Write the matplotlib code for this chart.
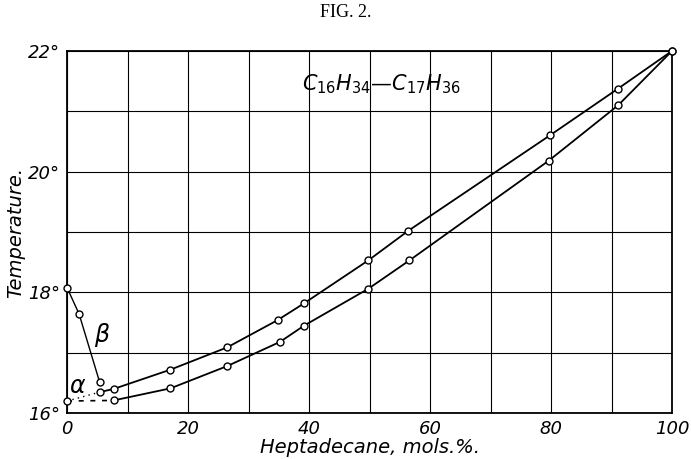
import matplotlib.pyplot as plt
import numpy as np

# heptadecane (mol %) vs temperature (deg C)
x_upper = [5.5, 7.7, 17.1, 26.5, 34.8, 39.2, 49.8, 56.4, 79.8, 91.0, 100]
t_upper = [16.35, 16.40, 16.72, 17.09, 17.54, 17.82, 18.53, 19.02, 20.60, 21.37, 22.0]

x_lower = [7.7, 17.1, 26.5, 35.2, 39.2, 49.8, 56.6, 79.6, 91.1, 100]
t_lower = [16.21, 16.41, 16.78, 17.18, 17.45, 18.06, 18.53, 20.18, 21.10, 22.0]

x_beta = [0, 2.0, 5.4]
t_beta = [18.08, 17.64, 16.51]

x_alpha = [0]
t_alpha = [16.2]

xticks = [0, 20, 40, 60, 80, 100]
yticks = [16, 18, 20, 22]

fig = plt.figure(figsize=(6.91, 4.59), dpi=100)
ax = fig.add_axes([0.097, 0.100, 0.8755, 0.789])

mk = dict(marker='o', ms=5, mfc='white', mec='black', mew=1.0, color='black', lw=1.3, clip_on=False, zorder=3)
ax.plot(x_upper, t_upper, **mk)
ax.plot(x_lower, t_lower, **mk)
ax.plot(x_beta, t_beta, **dict(mk, lw=1.0))
ax.plot(x_alpha, t_alpha, **mk)

# dotted continuations to the alpha point
ax.plot([x_alpha[0], x_upper[0]], [t_alpha[0], t_upper[0]], color='black', lw=1.0, ls=(0, (1, 3)))
ax.plot([x_alpha[0], x_lower[0]], [t_alpha[0], t_lower[0]], color='black', lw=1.2, ls=(0, (3, 4)))

ax.set_xlim(0, 100)
ax.set_ylim(16, 22)
ax.set_xticks(np.arange(0, 101, 10))
ax.set_yticks(np.arange(16, 22.1, 1))
ax.set_xticklabels([str(v) if v in xticks else '' for v in range(0, 101, 10)])
ax.set_yticklabels([f'{v}°' if v in yticks else '' for v in range(16, 23)])
ax.tick_params(length=0, labelsize=13, pad=5)
for lab in ax.get_xticklabels() + ax.get_yticklabels():
    lab.set_fontstyle('italic')

ax.grid(True, color='black', lw=0.8)
for s in ax.spines.values():
    s.set_linewidth(1.3)

ax.text(52, 21.45, r'$C_{16}H_{34}$—$C_{17}H_{36}$', fontsize=15, ha='center', va='center')
ax.text(5.8, 17.3, r'$\beta$', fontsize=17, ha='center', va='center')
ax.text(1.8, 16.45, r'$\alpha$', fontsize=17, ha='center', va='center')

ax.set_xlabel('Heptadecane, mols.%.', fontsize=14, style='italic', labelpad=0)
ax.set_ylabel('Temperature.', fontsize=14, style='italic', labelpad=2)
fig.text(0.5, 0.972, 'FIG. 2.', fontsize=13, ha='center', va='center', family='Liberation Serif')

plt.savefig('out.png', dpi=100)
